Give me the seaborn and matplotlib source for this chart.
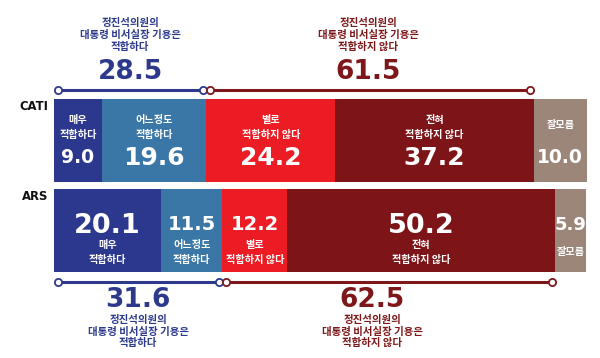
import numpy as np
import pandas as pd
import matplotlib
matplotlib.use("Agg")
import matplotlib.pyplot as plt
import seaborn as sns

# data
methods = ["CATI", "ARS"]
answer_labels = ["매우\n적합하다", "어느정도\n적합하다", "별로\n적합하지 않다", "전혀\n적합하지 않다", "잘모름"]
cati_values = [9.0, 19.6, 24.2, 37.2, 10.0]
ars_values = [20.1, 11.5, 12.2, 50.2, 5.9]
cati_summary = [28.5, 61.5]
ars_summary = [31.6, 62.5]
summary_labels = ["정진석의원의\n대통령 비서실장 기용은\n적합하다",
                  "정진석의원의\n대통령 비서실장 기용은\n적합하지 않다"]

# style
seg_colors = ["#2c388e", "#3a77a6", "#ec1c24", "#7d1518", "#9c867a"]
blue_txt = "#2d3a8c"
red_txt = "#7e1719"
kr_font = ["Noto Sans CJK KR", "DejaVu Sans"]
num_font = "DejaVu Sans"

# layout in pixels (figure is 600 x 358)
W, H = 600, 358
X0, X1 = 54, 587
SCALE = (X1 - X0) / 100.0
bar_centers = [140.8, 230.4]
BAR_H = 83

def px(x):
    return (x - X0) / SCALE

sns.set_style("white")
plt.rcParams["font.family"] = kr_font

fig = plt.figure(figsize=(W / 100, H / 100), dpi=100)
ax = fig.add_axes([0, 0, 1, 1])

df = pd.DataFrame({
    "method": np.repeat(methods, len(answer_labels)),
    "answer": list(range(len(answer_labels))) * len(methods),
    "value": cati_values + ars_values,
    "ypos": np.repeat(bar_centers, len(answer_labels)),
})
df["cum"] = df.groupby("method")["value"].cumsum()
df["start"] = df["cum"] - df["value"]

# stacked bars: draw cumulative totals from the last segment back to the first
bar_width = BAR_H / (bar_centers[1] - bar_centers[0])
for i in reversed(range(len(answer_labels))):
    sub = df[df["answer"] == i]
    sns.barplot(data=sub, x="cum", y="ypos", orient="h", native_scale=True,
                width=bar_width, color=seg_colors[i], saturation=1,
                errorbar=None, linewidth=0, ax=ax)

ax.set_xlim(px(0), px(W))
ax.set_ylim(H, 0)
ax.axis("off")

# method labels
for m, yc in zip(methods, [107, 197]):
    ax.text(px(48), yc, m, ha="right", va="center", fontsize=8.4,
            fontweight="bold", family=num_font, color="#111111")

# segment labels
cati_sizes = [13.5, 18, 18, 18, 13.5]
ars_sizes = [19.5, 14, 14, 19.5, 13]
for method, sizes, num_c, lab_y in [("CATI", cati_sizes, 156, 120.5),
                                     ("ARS", ars_sizes, 223, 245)]:
    sub = df[df["method"] == method]
    for (_, r), fs in zip(sub.iterrows(), sizes):
        xc = r["start"] + r["value"] / 2
        ax.text(xc, num_c + 0.506 * fs, f"{r['value']:.1f}", ha="center",
                va="baseline", fontsize=fs, fontweight="bold",
                family=num_font, color="white")
        lines = answer_labels[int(r["answer"])].split("\n")
        if len(lines) == 1:
            ys = [125] if method == "CATI" else [252]
        else:
            ys = [lab_y, lab_y + 14.5]
        for ln, yy in zip(lines, ys):
            ax.text(xc, yy, ln, ha="center", va="center", fontsize=7.3,
                    fontweight="bold", family=kr_font, color="white")

# brackets with summary numbers
INSET = 3.5 / SCALE
def bracket(x_a, x_b, y, color):
    xs = [x_a + INSET, x_b - INSET]
    ax.plot(xs, [y, y], color=color, lw=2.2, solid_capstyle="butt", zorder=3)
    ax.plot(xs, [y, y], ls="none", marker="o", ms=5.2, mfc="white",
            mec=color, mew=1.3, zorder=4)

for method, summ, line_y, num_c, txt_ys, txt_x in [
        ("CATI", cati_summary, 89.5, 69, [23, 35, 47], [130, 368]),
        ("ARS", ars_summary, 281.7, 297, [320, 331.5, 343], [138, 372])]:
    vals = df[df["method"] == method]["value"].to_numpy()
    edges = [0, vals[:2].sum(), vals[:4].sum()]
    for k, color in enumerate([blue_txt, red_txt]):
        bracket(edges[k], edges[k + 1], line_y, color)
        ax.text(px(txt_x[k]), num_c + 0.506 * 19, f"{summ[k]:.1f}",
                ha="center", va="baseline", fontsize=19, fontweight="bold",
                family=num_font, color=color)
        for ln, yy in zip(summary_labels[k].split("\n"), txt_ys):
            ax.text(px(txt_x[k]), yy, ln, ha="center", va="center",
                    fontsize=7.5, fontweight="bold", family=kr_font, color=color)

fig.savefig("out.png", dpi=100)
